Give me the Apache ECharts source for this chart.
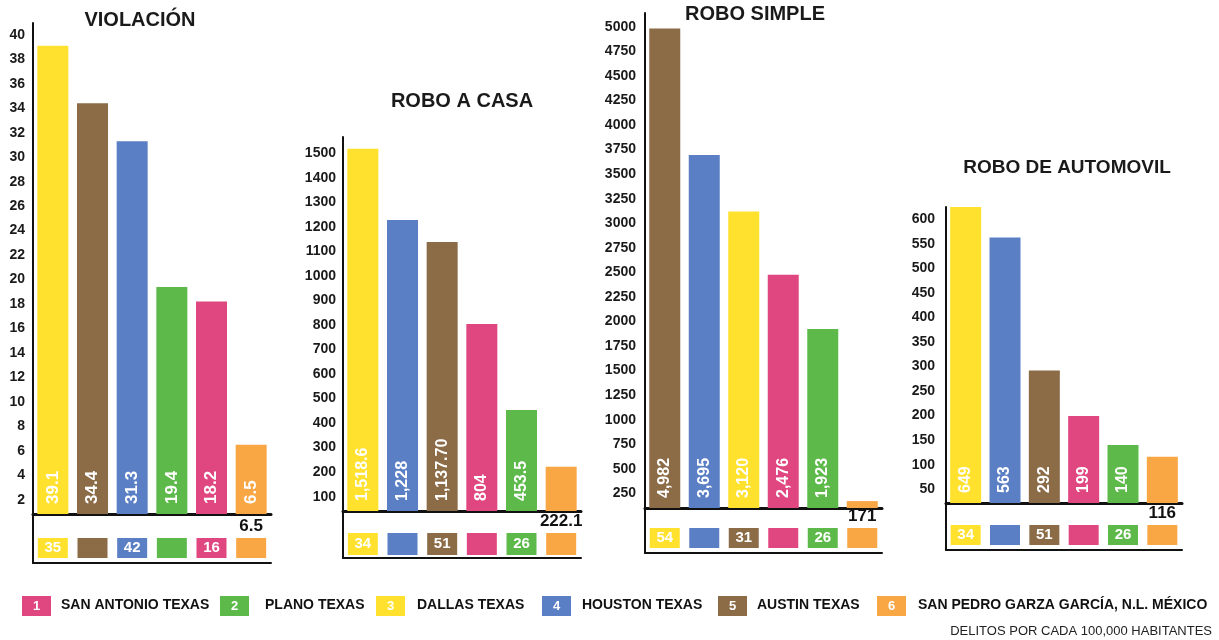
<!DOCTYPE html>
<html>
<head>
<meta charset="utf-8">
<script src="https://cdn.jsdelivr.net/npm/echarts@6/dist/echarts.min.js"></script>
<style>
  html, body { margin: 0; padding: 0; background: #fff; }
  #chart { width: 1219px; height: 640px; }
</style>
</head>
<body>
<div id="chart"></div>
<script>
// colores por ciudad
const cityColors = {
  sanAntonio: '#e0467f',
  plano: '#5dba4a',
  dallas: '#ffe12e',
  houston: '#5b7fc5',
  austin: '#8c6b47',
  sanPedro: '#f9a645'
};

// leyenda
const legendKeys = ['sanAntonio', 'plano', 'dallas', 'houston', 'austin', 'sanPedro'];
const legendNums = ['1', '2', '3', '4', '5', '6'];
const legendNames = ['SAN ANTONIO TEXAS', 'PLANO TEXAS', 'DALLAS TEXAS', 'HOUSTON TEXAS', 'AUSTIN TEXAS', 'SAN PEDRO GARZA GARCÍA, N.L. MÉXICO'];
const footNote = 'DELITOS POR CADA 100,000 HABITANTES';

// VIOLACIÓN
const violTitle = 'VIOLACIÓN';
const violCities = ['dallas', 'austin', 'houston', 'plano', 'sanAntonio', 'sanPedro'];
const violValues = [39.1, 34.4, 31.3, 19.4, 18.2, 6.5];
const violLabels = ['39.1', '34.4', '31.3', '19.4', '18.2', '6.5'];
const violRankCities = ['dallas', 'austin', 'houston', 'plano', 'sanAntonio', 'sanPedro'];
const violRanks = ['35', '', '42', '', '16', ''];
const violTicks = [2, 4, 6, 8, 10, 12, 14, 16, 18, 20, 22, 24, 26, 28, 30, 32, 34, 36, 38, 40];

// ROBO A CASA
const casaTitle = 'ROBO A CASA';
const casaCities = ['dallas', 'houston', 'austin', 'sanAntonio', 'plano', 'sanPedro'];
const casaValues = [1518.6, 1228, 1137.7, 804, 453.5, 222.1];
const casaLabels = ['1,518.6', '1,228', '1,137.70', '804', '453.5', ''];
const casaRankCities = ['dallas', 'houston', 'austin', 'sanAntonio', 'plano', 'sanPedro'];
const casaRanks = ['34', '', '51', '', '26', ''];
const casaTicks = [100, 200, 300, 400, 500, 600, 700, 800, 900, 1000, 1100, 1200, 1300, 1400, 1500];

// ROBO SIMPLE
const simpleTitle = 'ROBO SIMPLE';
const simpleCities = ['austin', 'houston', 'dallas', 'sanAntonio', 'plano', 'sanPedro'];
const simpleValues = [4982, 3695, 3120, 2476, 1923, 171];
const simpleLabels = ['4,982', '3,695', '3,120', '2,476', '1,923', ''];
const simpleRankCities = ['dallas', 'houston', 'austin', 'sanAntonio', 'plano', 'sanPedro'];
const simpleRanks = ['54', '', '31', '', '26', ''];
const simpleTicks = [250, 500, 750, 1000, 1250, 1500, 1750, 2000, 2250, 2500, 2750, 3000, 3250, 3500, 3750, 4000, 4250, 4500, 4750, 5000];

// ROBO DE AUTOMOVIL
const autoTitle = 'ROBO DE AUTOMOVIL';
const autoCities = ['dallas', 'houston', 'austin', 'sanAntonio', 'plano', 'sanPedro'];
const autoValues = [649, 563, 292, 199, 140, 116];
const autoLabels = ['649', '563', '292', '199', '140', ''];
const autoRankCities = ['dallas', 'houston', 'austin', 'sanAntonio', 'plano', 'sanPedro'];
const autoRanks = ['34', '', '51', '', '26', ''];
const autoTicks = [50, 100, 150, 200, 250, 300, 350, 400, 450, 500, 550, 600];

const FONT = '"Liberation Sans", Arial, Helvetica, sans-serif';

// paneles: datos + posicion en la pagina
const panels = [
  { title: violTitle, cities: violCities, values: violValues, labels: violLabels,
    rankCities: violRankCities, ranks: violRanks, ticks: violTicks,
    left: 33, width: 238, top: 23, base: 514, boxBottom: 563, min: 0.85, max: 40.96,
    rankMin: -0.25, rankMax: 2.2, labelMargin: 8, barFont: 17, titleX: 140, titleY: 20, titleSize: 20 },
  { title: casaTitle, cities: casaCities, values: casaValues, labels: casaLabels,
    rankCities: casaRankCities, ranks: casaRanks, ticks: casaTicks,
    left: 343, width: 238, top: 137, base: 511, boxBottom: 558, min: 41.6, max: 1566,
    rankMin: -0.136, rankMax: 2.0, labelMargin: 7, barFont: 16, titleX: 462, titleY: 101, titleSize: 20 },
  { title: simpleTitle, cities: simpleCities, values: simpleValues, labels: simpleLabels,
    rankCities: simpleRankCities, ranks: simpleRanks, ticks: simpleTicks,
    left: 645, width: 237, top: 13, base: 508, boxBottom: 553, min: 100.8, max: 5140,
    rankMin: -0.25, rankMax: 2.0, labelMargin: 9, barFont: 16, titleX: 755, titleY: 14, titleSize: 20 },
  { title: autoTitle, cities: autoCities, values: autoValues, labels: autoLabels,
    rankCities: autoRankCities, ranks: autoRanks, ticks: autoTicks,
    left: 946, width: 236, top: 207, base: 503, boxBottom: 550, min: 22, max: 625,
    rankMin: -0.25, rankMax: 2.1, labelMargin: 11, barFont: 16, titleX: 1067, titleY: 168, titleSize: 19 }
];

const grid = [];
const xAxis = [];
const yAxis = [];
const series = [];
const graphic = [];

panels.forEach((p, i) => {
  // grafica principal
  grid.push({ left: p.left, top: p.top, width: p.width, height: p.base - p.top });
  xAxis.push({
    type: 'category', gridIndex: 2 * i, data: p.cities,
    axisLine: { onZero: false, lineStyle: { color: '#111', width: 3 } },
    axisTick: { show: false }, axisLabel: { show: false }
  });
  yAxis.push({
    type: 'value', gridIndex: 2 * i, min: p.min, max: p.max,
    axisLine: { show: true, lineStyle: { color: '#111', width: 2 } },
    axisTick: { show: false },
    splitLine: { show: false },
    axisLabel: {
      customValues: p.ticks, showMinLabel: true, showMaxLabel: true,
      margin: p.labelMargin, color: '#1a1a1a', fontSize: 14, fontWeight: 'bold', fontFamily: FONT,
      formatter: (v) => String(v)
    }
  });
  series.push({
    type: 'bar', xAxisIndex: 2 * i, yAxisIndex: 2 * i, barWidth: 31, clip: true,
    data: p.values.map((v, j) => ({ value: v, itemStyle: { color: cityColors[p.cities[j]] } })),
    label: {
      show: true, position: 'insideBottom', rotate: 90, align: 'left', verticalAlign: 'middle',
      distance: 10, color: '#fff', fontSize: p.barFont, fontWeight: 'bold', fontFamily: FONT,
      formatter: (q) => p.labels[q.dataIndex]
    }
  });

  // casillas de posicion debajo
  grid.push({ left: p.left, top: p.base, width: p.width, height: p.boxBottom - p.base });
  xAxis.push({
    type: 'category', gridIndex: 2 * i + 1, data: p.rankCities,
    axisLine: { onZero: false, lineStyle: { color: '#111', width: 2 } },
    axisTick: { show: false }, axisLabel: { show: false }
  });
  yAxis.push({
    type: 'value', gridIndex: 2 * i + 1, min: p.rankMin, max: p.rankMax,
    axisLine: { show: true, lineStyle: { color: '#111', width: 2 } },
    axisTick: { show: false }, axisLabel: { show: false }, splitLine: { show: false }
  });
  const last = p.rankCities.length - 1;
  series.push({
    type: 'bar', xAxisIndex: 2 * i + 1, yAxisIndex: 2 * i + 1, barWidth: 30,
    data: p.rankCities.map((c, j) => {
      const item = { value: 1, itemStyle: { color: cityColors[c] } };
      if (j === last) {
        item.label = {
          show: true, position: 'top', distance: 3, color: '#111', fontSize: 17,
          fontWeight: 'bold', fontFamily: FONT, formatter: String(p.values[p.values.length - 1])
        };
      }
      return item;
    }),
    label: {
      show: true, position: 'inside', color: '#fff', fontSize: 15, fontWeight: 'bold', fontFamily: FONT,
      formatter: (q) => p.ranks[q.dataIndex]
    }
  });

  // titulo del panel
  graphic.push({
    type: 'text', x: p.titleX, y: p.titleY,
    style: {
      text: p.title, fill: '#1a1a1a', fontSize: p.titleSize, fontWeight: 'bold', fontFamily: FONT,
      align: 'center', verticalAlign: 'middle'
    }
  });
});

// leyenda abajo
const legendBoxX = [22, 220, 376, 542, 718, 877];
const legendTextX = [61, 265, 417, 582, 757, 918];
legendKeys.forEach((k, i) => {
  graphic.push({
    type: 'rect', shape: { x: legendBoxX[i], y: 596, width: 29, height: 20 },
    style: { fill: cityColors[k] }
  });
  graphic.push({
    type: 'text', x: legendBoxX[i] + 14.5, y: 606,
    style: { text: legendNums[i], fill: '#fff', fontSize: 13, fontWeight: 'bold', fontFamily: FONT, align: 'center', verticalAlign: 'middle' }
  });
  graphic.push({
    type: 'text', x: legendTextX[i], y: 605,
    style: { text: legendNames[i], fill: '#111', fontSize: 14, fontWeight: 'bold', fontFamily: FONT, align: 'left', verticalAlign: 'middle' }
  });
});
graphic.push({
  type: 'text', x: 1212, y: 631,
  style: { text: footNote, fill: '#222', fontSize: 13, fontFamily: FONT, align: 'right', verticalAlign: 'middle' }
});

const chart = echarts.init(document.getElementById('chart'));
chart.setOption({
  animation: false,
  backgroundColor: '#fff',
  grid: grid,
  xAxis: xAxis,
  yAxis: yAxis,
  series: series,
  graphic: graphic
});
</script>
</body>
</html>
